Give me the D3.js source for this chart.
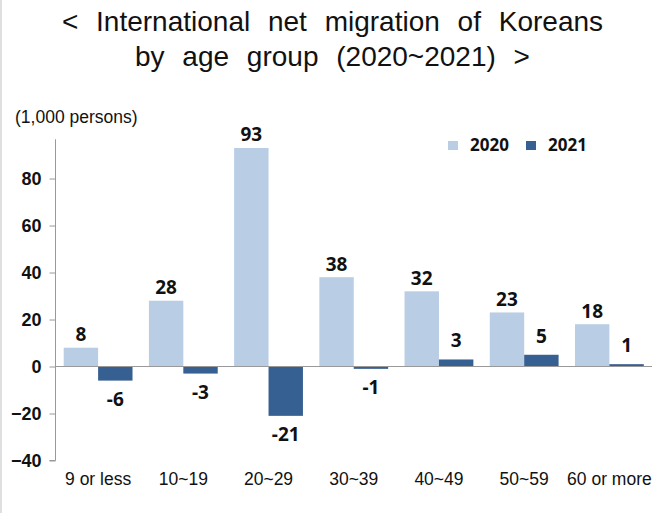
<!DOCTYPE html>
<html>
<head>
<meta charset="utf-8">
<script src="https://cdn.jsdelivr.net/npm/d3@7"></script>
<style>
  html, body { margin: 0; padding: 0; background: #fff; }
  svg { display: block; }
</style>
</head>
<body>
<div id="chart"></div>
<script>
// Age groups and net migration (thousand persons)
const categories = ["9 or less", "10~19", "20~29", "30~39", "40~49", "50~59", "60 or more"];
const seriesNames = ["2020", "2021"];
const values2020 = [8, 28, 93, 38, 32, 23, 18];
const values2021 = [-6, -3, -21, -1, 3, 5, 1];
const yTicks = [-40, -20, 0, 20, 40, 60, 80];
const titleLines = ["< International net migration of Koreans", "by age group (2020~2021) >"];
const unitLabel = "(1,000 persons)";

const colors = { "2020": "#b9cde5", "2021": "#376092" };

const W = 662, H = 513;
const svg = d3.select("#chart").append("svg")
  .attr("width", W).attr("height", H);

svg.append("rect").attr("width", W).attr("height", H).attr("fill", "#fff");
// thin frame line on the left edge
svg.append("line").attr("x1", 1).attr("x2", 1).attr("y1", 0).attr("y2", H)
  .attr("stroke", "#d4d4d4").attr("stroke-width", 1.5);

// Title
svg.append("g").selectAll("text").data(titleLines).join("text")
  .attr("x", 332.5)
  .attr("y", (d, i) => 31 + i * 35)
  .attr("text-anchor", "middle")
  .attr("font-family", "'Liberation Sans', Arial, sans-serif")
  .attr("font-size", 28)
  .attr("word-spacing", "10px")
  .attr("fill", "#111")
  .text(d => d);

// Scales
const x0 = d3.scaleBand().domain(categories).range([55.5, 652]).padding(0);
const x1 = d3.scaleBand().domain(seriesNames)
  .range([8.2, x0.bandwidth() - 8.2]).padding(0);
const y = d3.scaleLinear().domain([-40, 96.7]).range([460.5, 139.3]);

// Y axis
const yAxis = d3.axisLeft(y).tickValues(yTicks).tickSize(6).tickPadding(8)
  .tickFormat(d3.format("d"));
const gy = svg.append("g").attr("transform", "translate(55.5,0)").call(yAxis);
gy.select(".domain").attr("stroke", "#999").attr("d", `M-6,${y(-40)}H0V${y.range()[1]}`);
gy.selectAll(".tick line").attr("stroke", "#999");
gy.selectAll(".tick text")
  .attr("font-family", "'Liberation Sans', Arial, sans-serif")
  .attr("font-weight", "bold")
  .attr("font-size", 18)
  .attr("fill", "#111");

// Unit label
svg.append("text").attr("x", 15).attr("y", 123)
  .attr("font-family", "'Liberation Sans', Arial, sans-serif")
  .attr("font-size", 17.5).attr("fill", "#111")
  .text(unitLabel);

// Bars
const rows = categories.map((c, i) => ({
  cat: c,
  vals: [{ s: "2020", v: values2020[i] }, { s: "2021", v: values2021[i] }]
}));

const groups = svg.append("g").selectAll("g").data(rows).join("g")
  .attr("transform", d => `translate(${x0(d.cat)},0)`);

groups.selectAll("rect").data(d => d.vals).join("rect")
  .attr("x", d => x1(d.s))
  .attr("width", x1.bandwidth())
  .attr("y", d => y(Math.max(0, d.v)))
  .attr("height", d => Math.abs(y(d.v) - y(0)))
  .attr("fill", d => colors[d.s]);

// Zero line
svg.append("line")
  .attr("x1", 55.5).attr("x2", 652)
  .attr("y1", y(0)).attr("y2", y(0))
  .attr("stroke", "#999").attr("stroke-width", 1);

// Value labels
groups.selectAll("text.val").data(d => d.vals).join("text")
  .attr("class", "val")
  .attr("x", d => x1(d.s) + x1.bandwidth() / 2)
  .attr("y", d => d.v >= 0
    ? y(d.v) - (d.s === "2020" ? 6.5 : 12)
    : y(d.v) + 25)
  .attr("text-anchor", "middle")
  .attr("font-family", "'Noto Sans', sans-serif")
  .attr("font-weight", "bold")
  .attr("font-size", 19)
  .attr("fill", "#111")
  .text(d => d.v);

// Category labels
svg.append("g").selectAll("text").data(categories).join("text")
  .attr("x", d => x0(d) + x0.bandwidth() / 2)
  .attr("y", 485)
  .attr("text-anchor", "middle")
  .attr("font-family", "'Liberation Sans', Arial, sans-serif")
  .attr("font-size", 17.5)
  .attr("fill", "#111")
  .text(d => d);

// Legend
const legendX = [448, 526];
const legend = svg.append("g").selectAll("g").data(seriesNames).join("g")
  .attr("transform", (d, i) => `translate(${legendX[i]},0)`);
legend.append("rect").attr("x", 0).attr("y", 141).attr("width", 10).attr("height", 9)
  .attr("fill", d => colors[d]);
legend.append("text").attr("x", 22).attr("y", 151)
  .attr("font-family", "'Noto Sans', sans-serif")
  .attr("font-weight", "bold").attr("font-size", 17)
  .attr("fill", "#111")
  .text(d => d);
</script>
</body>
</html>
